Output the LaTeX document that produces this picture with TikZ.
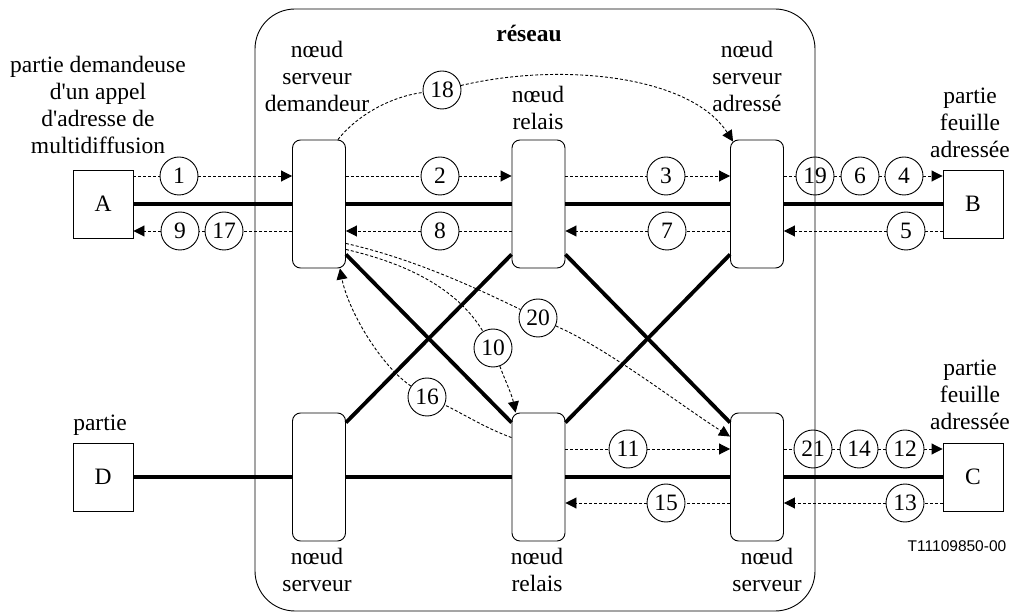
\documentclass[tikz,border=0pt]{standalone}
\usepackage{fontspec}
\setmainfont{Liberation Serif}
\newfontfamily\reffont{Liberation Sans}
\usetikzlibrary{arrows.meta}
\tikzset{
	noeud/.style={draw, line width=0.9pt, rounded corners=8pt, minimum width=53pt, minimum height=128pt},
	partie/.style={draw, line width=0.9pt, minimum width=60pt, minimum height=68pt},
	num/.style={draw, circle, line width=0.9pt, minimum size=38pt, inner sep=0pt},
	lien/.style={line width=3.8pt},
	msg/.style={line width=0.9pt, dash pattern=on 3pt off 2pt},
	msgfl/.style={msg, -{Triangle[length=11pt,width=11pt]}},
	txt/.style={align=center, inner sep=0pt}
}

\begin{document}
\begin{tikzpicture}[x=1pt, y=-1pt, font=\fontsize{23.5}{27}\selectfont]
			%%%%% START %%%%%
			\useasboundingbox (0,0) rectangle (1013,612);
			
			\draw[line width=0.9pt, rounded corners=40pt] (255,9) rectangle (815,611);
			\node[font=\fontsize{23.5}{27}\selectfont\bfseries] (reseau) at (529,33) {réseau};
			
			\node[noeud] (sd) at (319,204) {};
			\node[noeud] (rh) at (538.5,204) {};
			\node[noeud] (sa) at (757,204) {};
			\node[noeud] (sb) at (319,477) {};
			\node[noeud] (rb) at (538.5,477) {};
			\node[noeud] (sc) at (757,477) {};
			
			\node[partie] (A) at (103,204) {A};
			\node[partie] (B) at (973,204) {B};
			\node[partie] (D) at (103,477) {D};
			\node[partie] (C) at (973,477) {C};
			
			\node[txt] (lA) at (98,105) {partie demandeuse\\d\textquotesingle un appel\\d\textquotesingle adresse de\\multidiffusion};
			\node[txt] (lsd) at (317,76) {nœud\\serveur\\demandeur};
			\node[txt] (lrh) at (538,108) {nœud\\relais};
			\node[txt] (lsa) at (747,76) {nœud\\serveur\\adressé};
			\node[txt] (lB) at (970,123) {partie\\feuille\\adressée};
			\node[txt] (lC) at (970,395) {partie\\feuille\\adressée};
			\node[txt] (lD) at (100,425) {partie};
			\node[txt] (lsb) at (317,570) {nœud\\serveur};
			\node[txt] (lrb) at (537,570) {nœud\\relais};
			\node[txt] (lsc) at (767,570) {nœud\\serveur};
			\node[font=\reffont\fontsize{15.5}{18}\selectfont] (ref) at (957,546) {T11109850-00};
			
			% les liens
			\draw[lien] (A) -- (sd) -- (rh) -- (sa) -- (B);
			\draw[lien] (D) -- (sb) -- (rb) -- (sc) -- (C);
			\draw[lien] ([yshift=14pt]sd.south east) -- ([yshift=-10pt]rb.north west);
			\draw[lien] ([yshift=14pt]rh.south west) -- ([yshift=-10pt]sb.north east);
			\draw[lien] ([yshift=14pt]rh.south east) -- ([yshift=-10pt]sc.north west);
			\draw[lien] ([yshift=14pt]sa.south west) -- ([yshift=-10pt]rb.north east);
			
			% les messages
			\node[num] (c1) at (179,176) {1};
			\node[num] (c2) at (440,176) {2};
			\node[num] (c3) at (666,176) {3};
			\node[num] (c19) at (815,176) {19};
			\node[num] (c6) at (860,176) {6};
			\node[num] (c4) at (904,176) {4};
			\node[num] (c9) at (180,231) {9};
			\node[num] (c17) at (224,231) {17};
			\node[num] (c8) at (440,231) {8};
			\node[num] (c7) at (667,231) {7};
			\node[num] (c5) at (906,231) {5};
			\node[num] (c18) at (442,90) {18};
			\node[num] (c20) at (538,318) {20};
			\node[num] (c10) at (493,348) {10};
			\node[num] (c16) at (427,397) {16};
			\node[num] (c11) at (628,449) {11};
			\node[num] (c21) at (813,449) {21};
			\node[num] (c14) at (859,449) {14};
			\node[num] (c12) at (905,449) {12};
			\node[num] (c15) at (666,503) {15};
			\node[num] (c13) at (905,503) {13};
			
			\draw[msgfl] (A.east |- c1) -- (c1) -- (sd.west |- c1);
			\draw[msgfl] (sd.east |- c2) -- (c2) -- (rh.west |- c2);
			\draw[msgfl] (rh.east |- c3) -- (c3) -- (sa.west |- c3);
			\draw[msgfl] (sa.east |- c19) -- (c19) -- (c6) -- (c4) -- (B.west |- c4);
			\draw[msgfl] (sd.west |- c17) -- (c17) -- (c9) -- (A.east |- c9);
			\draw[msgfl] (rh.west |- c8) -- (c8) -- (sd.east |- c8);
			\draw[msgfl] (sa.west |- c7) -- (c7) -- (rh.east |- c7);
			\draw[msgfl] (B.west |- c5) -- (c5) -- (sa.east |- c5);
			\draw[msgfl] (rb.east |- c11) -- (c11) -- (sc.west |- c11);
			\draw[msgfl] (sc.east |- c21) -- (c21) -- (c14) -- (c12) -- (C.west |- c12);
			\draw[msgfl] (sc.west |- c15) -- (c15) -- (rb.east |- c15);
			\draw[msgfl] (C.west |- c13) -- (c13) -- (sc.east |- c13);
			
			\draw[msg] ([xshift=-8pt]sd.north east) .. controls (360,112) and (395,96) .. (c18);
			\draw[msgfl] (c18) .. controls (560,62) and (690,75) .. ([xshift=3pt,yshift=-2pt]sa.north west);
			\draw[msg] ([yshift=25pt]sd.south east) .. controls (410,258) and (470,285) .. (c20);
			\draw[msgfl] (c20) .. controls (610,350) and (680,405) .. ([yshift=-24pt]sc.north west);
			\draw[msg] ([yshift=19pt]sd.south east) .. controls (400,262) and (455,285) .. (c10);
			\draw[msgfl] (c10) .. controls (505,380) and (512,395) .. ([xshift=4pt]rb.north west);
			\draw[msg] ([yshift=-25pt]rb.north west) .. controls (485,428) and (460,412) .. (c16);
			\draw[msgfl] (c16) .. controls (380,365) and (348,310) .. ([xshift=-6pt]sd.south east);
			
			%%%%% END %%%%%
\end{tikzpicture}
\end{document}
